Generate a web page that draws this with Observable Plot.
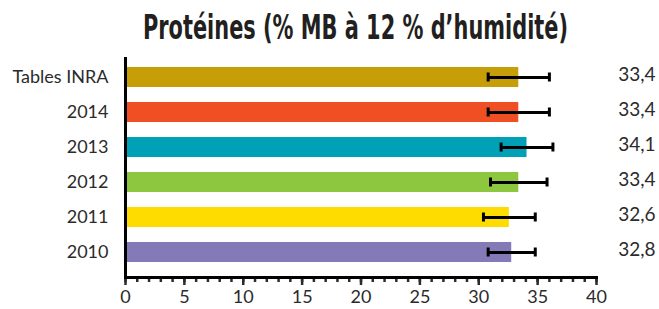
<!DOCTYPE html>
<html><head><meta charset="utf-8">
<script src="https://cdn.jsdelivr.net/npm/d3@7"></script>
<script src="https://cdn.jsdelivr.net/npm/@observablehq/plot@0.6"></script>
<style>
body{margin:0;background:#fff;}
#title{height:52px;margin:0;padding-left:143px;box-sizing:border-box;white-space:nowrap;overflow:visible;}
#title span{display:inline-block;font-family:"DejaVu Sans",sans-serif;font-weight:bold;font-size:34px;line-height:54px;height:52px;color:#231f20;transform-origin:0 0;}
</style></head>
<body>
<div id="title"><span id="t">Protéines (% MB à 12 % d’humidité)</span></div>
<div id="chart"></div>
<script>
const categories = ["Tables INRA", "2014", "2013", "2012", "2011", "2010"];
const values = [33.4, 33.4, 34.1, 33.4, 32.6, 32.8];
const errors = [2.6, 2.6, 2.2, 2.4, 2.2, 2.0];
const valueLabels = ["33,4", "33,4", "34,1", "33,4", "32,6", "32,8"];
const colors = ["#c59e08", "#f04f24", "#00a0b7", "#8dc63f", "#ffdc00", "#847ab8"];
const xTicks = [0, 5, 10, 15, 20, 25, 30, 35, 40];

const t = document.getElementById("t");
const w = t.getBoundingClientRect().width;
t.style.transform = `scaleX(${425 / w})`;

const data = categories.map((c, i) => ({cat: c, v: values[i], lo: values[i] - errors[i], hi: values[i] + errors[i], lab: valueLabels[i], col: colors[i]}));
const font = "Lato, 'Open Sans', sans-serif";

const chart = Plot.plot({
  width: 659,
  height: 257,
  marginTop: 5,
  marginBottom: 32,
  marginLeft: 125,
  marginRight: 63,
  style: {fontFamily: font, fontSize: "18px", color: "#2b2b2b", background: "#fff"},
  x: {domain: [0, 40]},
  y: {domain: categories, paddingInner: 0.44, paddingOuter: 0.22, insetBottom: 6},
  marks: [
    Plot.barX(data, {y: "cat", x: "v", fill: "col"}),
    Plot.ruleY(data, {y: "cat", x1: "lo", x2: "hi", stroke: "#000", strokeWidth: 3}),
    Plot.tickX(data, {y: "cat", x: "lo", stroke: "#000", strokeWidth: 3, insetTop: 5.5, insetBottom: 5.5}),
    Plot.tickX(data, {y: "cat", x: "hi", stroke: "#000", strokeWidth: 3, insetTop: 5.5, insetBottom: 5.5}),
    Plot.text(data, {y: "cat", text: "lab", frameAnchor: "right", dx: 59, dy: -3, textAnchor: "end", fontSize: 19, fill: "#2b2b2b"}),
    Plot.axisY({tickSize: 0, tickPadding: 17, fontSize: 18, label: null, fill: "#2b2b2b"}),
    Plot.axisX({ticks: d3.range(0, 41), tickSize: 5, strokeWidth: 2.5, text: null, label: null}),
    Plot.axisX({ticks: xTicks, tickSize: 8, strokeWidth: 2.5, tickPadding: 5, fontSize: 18, label: null, fill: "#2b2b2b"}),
    Plot.ruleX([0], {stroke: "#000", strokeWidth: 3}),
    Plot.frame({anchor: "bottom", stroke: "#000", strokeWidth: 3})
  ]
});
document.getElementById("chart").appendChild(chart);
</script>
</body></html>
